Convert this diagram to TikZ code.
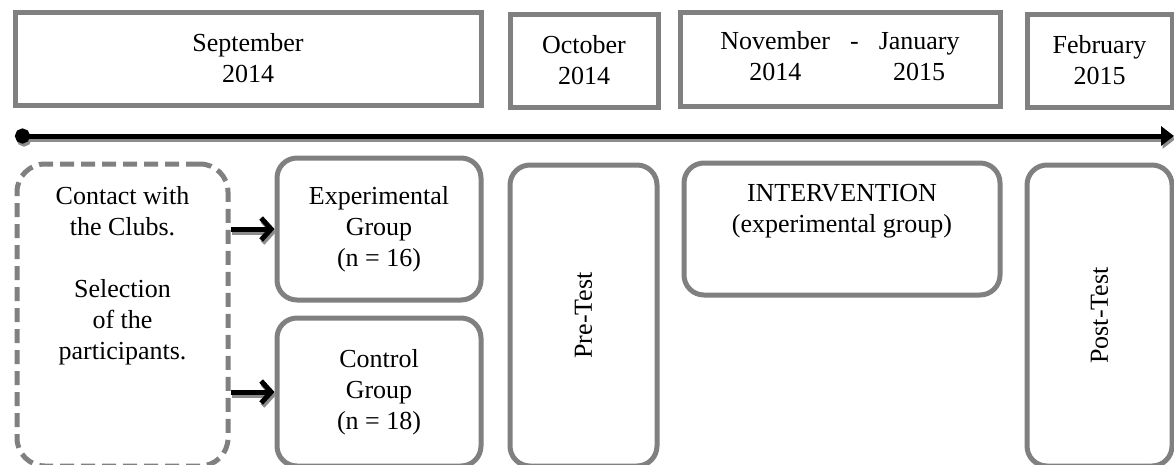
\documentclass[tikz,border=0pt]{standalone}
\usepackage{fontspec}
\setmainfont{Liberation Serif}
\usetikzlibrary{arrows.meta,positioning}
\definecolor{boxgray}{RGB}{128,128,128}

\begin{document}
\begin{tikzpicture}[
		x=1pt, y=-1pt,
		font=\fontsize{26}{31}\selectfont,
		mon/.style={draw=boxgray, line width=5pt, inner sep=0pt, align=center},
		ph/.style={draw=boxgray, line width=5pt, rounded corners=20pt, inner sep=0pt, align=center},
		sel/.style={draw=boxgray, line width=5pt, dash pattern=on 14pt off 7pt, rounded corners=28pt, inner sep=0pt},
		txt/.style={inner sep=0pt, align=center},
		shd/.style={draw=black!45, transform canvas={shift={(1.5pt,-3pt)}}},
		grp/.style={line width=5pt, -{Straight Barb[length=10pt,width=22pt]}},
		tline/.style={line width=5pt, {Circle[length=15pt]}-{Triangle[length=13pt,width=19pt]}}
		]
		\clip (0,0) rectangle (1174,464);
		
		% ---- Monate oben
		\node[mon, minimum width=466pt, minimum height=93pt] (sep) at (248,58.5)    {September\\2014};
		\node[mon, minimum width=148pt, minimum height=93pt] (oct) at (584,60.5)    {October\\2014};
		\node[mon, minimum width=320pt, minimum height=94pt] (nov) at (840,59)
		{\setlength{\tabcolsep}{10pt}\begin{tabular}{ccc}November & - & January\\2014 & & 2015\end{tabular}};
		\node[mon, minimum width=145pt, minimum height=93pt] (feb) at (1099.5,60.5) {February\\2015};
		
		% ---- Zeitachse (mit Schatten)
		\coordinate (t0) at (15,136);
		\coordinate (t1) at (1174,136);
		\draw[tline, shd] (t0) -- (t1);
		\draw[tline, draw=black] (t0) -- (t1);
		
		% ---- Phasen unten
		\node[sel, minimum width=211pt, minimum height=302pt] (contact) at (122.5,315) {};
		\node[txt, below=25pt of contact.north] (contxt)
		{Contact with\\the Clubs.\\[31pt]Selection\\of the\\participants.};
		\node[ph, minimum width=204pt, minimum height=142pt] (exp)  at (379,229)   {Experimental\\Group\\(n = 16)};
		\node[ph, minimum width=204pt, minimum height=148pt] (ctrl) at (379,392)   {Control\\Group\\(n = 18)};
		\node[ph, rotate=90, minimum width=301pt, minimum height=147pt] (pre)  at (583.5,315.5) {Pre-Test};
		\node[ph, minimum width=316pt, minimum height=132pt] (interv) at (842,229) {};
		\node[txt, below=24pt of interv.north] (intxt) {INTERVENTION\\(experimental group)};
		\node[ph, rotate=90, minimum width=301pt, minimum height=145pt] (post) at (1099.5,315.5) {Post-Test};
		
		% ---- Pfeile zu den Gruppen (mit Schatten)
		\foreach \g in {exp, ctrl} {
			\draw[grp, shd] (contact.east |- \g.west) -- (\g.west);
			\draw[grp, draw=black] (contact.east |- \g.west) -- (\g.west);
		}
	\end{tikzpicture}
\end{document}
